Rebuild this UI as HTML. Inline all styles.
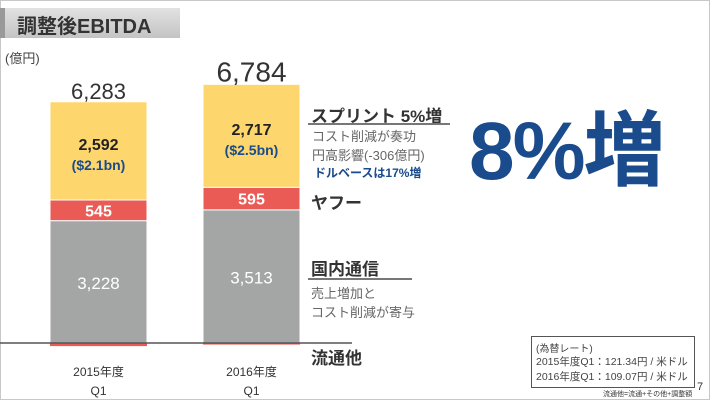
<!DOCTYPE html>
<html><head><meta charset="utf-8"><style>
body{margin:0;width:710px;height:400px;overflow:hidden;background:#fff;font-family:"Liberation Sans","Noto Sans CJK JP",sans-serif;}
#slide{position:absolute;left:0;top:0;width:708px;height:398px;border:1px solid #c8c8c8;}
.t{position:absolute;white-space:nowrap;}
</style></head><body>
<div id="slide"></div>
<div style="position:absolute;left:0;top:8px;width:180px;height:30px;background:linear-gradient(#e2e2e2,#c4c4c4);"></div>
<div style="position:absolute;left:0;top:8px;width:5px;height:30px;background:#999;"></div>
<div class="t" style="left:17px;top:10px;font-size:20px;font-weight:bold;color:#333;">調整後EBITDA</div>
<div class="t" style="left:5px;top:48px;font-size:13px;color:#444;">(億円)</div>
<svg id="chart" width="710" height="400" style="position:absolute;left:0;top:0"></svg>
<div class="t" style="left:311px;top:102px;font-size:17px;font-weight:bold;color:#333;">スプリント 5%増</div>
<div style="position:absolute;left:308px;top:123px;width:142px;height:2px;background:#777;"></div>
<div class="t" style="left:312px;top:126px;font-size:13px;color:#666;">コスト削減が奏功</div>
<div class="t" style="left:312px;top:145px;font-size:13px;color:#666;">円高影響(-306億円)</div>
<div class="t" style="left:314px;top:164px;font-size:12px;font-weight:bold;color:#1a4b8c;">ドルベースは17%増</div>
<div class="t" style="left:311px;top:189px;font-size:17px;font-weight:bold;color:#333;">ヤフー</div>
<div class="t" style="left:311px;top:255px;font-size:17px;font-weight:bold;color:#333;">国内通信</div>
<div style="position:absolute;left:308px;top:278px;width:104px;height:2px;background:#777;"></div>
<div class="t" style="left:311px;top:283px;font-size:13px;color:#666;">売上増加と</div>
<div class="t" style="left:311px;top:302px;font-size:13px;color:#666;">コスト削減が寄与</div>
<div class="t" style="left:311px;top:344px;font-size:17px;font-weight:bold;color:#333;">流通他</div>
<div class="t" style="left:469px;top:84px;font-size:82px;font-weight:bold;color:#1a4b8c;letter-spacing:-2px;">8%増</div>
<div style="position:absolute;left:531px;top:336px;width:162px;height:50px;border:1px solid #555;"></div>
<div class="t" style="left:536px;top:340px;font-size:10px;color:#444;">(為替レート)</div>
<div class="t" style="left:536px;top:354px;font-size:10.5px;color:#444;">2015年度Q1：121.34円 / 米ドル</div>
<div class="t" style="left:536px;top:369px;font-size:10.5px;color:#444;">2016年度Q1：109.07円 / 米ドル</div>
<div class="t" style="left:603px;top:389px;font-size:7px;color:#333;">流通他=流通+その他+調整額</div>
<div class="t" style="left:697px;top:381px;font-size:11px;color:#333;">7</div>
<script>
const categories=["2015年度","2016年度"];
const sprint=[2592,2717];
const sprintUsd=["($2.1bn)","($2.5bn)"];
const yahoo=[545,595];
const domestic=[3228,3513];
const other=[-82,-41];
const totals=[6283,6784];
const svg=document.getElementById('chart');
const NS='http://www.w3.org/2000/svg';
const base=343, k=0.0379, barW=97, xs=[50,203];
const y=v=>base-v*k;
const fmt=v=>v.toLocaleString('en-US');
function el(tag,attrs,txt){const e=document.createElementNS(NS,tag);for(const a in attrs)e.setAttribute(a,attrs[a]);if(txt!==undefined)e.textContent=txt;svg.appendChild(e);return e;}
categories.forEach((c,i)=>{
  const x=xs[i],cx=x+barW/2;
  const g0=0,g1=domestic[i],r1=g1+yahoo[i],s1=r1+sprint[i];
  let r=el('rect',{x:x,y:y(g1),width:barW,height:y(g0)-y(g1),fill:'#a4a6a5',stroke:'#fff','stroke-width':1});
  
  r=el('rect',{x:x,y:y(r1),width:barW,height:y(g1)-y(r1),fill:'#eb5b55',stroke:'#fff','stroke-width':1});
  
  r=el('rect',{x:x,y:y(s1),width:barW,height:y(r1)-y(s1),fill:'#fdd66e',stroke:'#fff','stroke-width':1});
  
  r=el('rect',{x:x,y:base,width:barW,height:-other[i]*k,fill:'#eb5b55'});
  
  let t=el('text',{x:cx,y:(y(g1)+base)/2+7,'text-anchor':'middle','font-size':17,fill:'#fff'},fmt(domestic[i]));
  
  t=el('text',{x:cx,y:(y(r1)+y(g1))/2+6,'text-anchor':'middle','font-size':16,'font-weight':'bold',fill:'#fff'},fmt(yahoo[i]));
  
  const sm=(y(s1)+y(r1))/2;
  t=el('text',{x:cx,y:sm-1,'text-anchor':'middle','font-size':16,'font-weight':'bold',fill:'#222'},fmt(sprint[i]));
  
  t=el('text',{x:cx,y:sm+19,'text-anchor':'middle','font-size':14,'font-weight':'bold',fill:'#1a4b8c'},sprintUsd[i]);
  
  t=el('text',{x:cx,y:y(s1)-3,'text-anchor':'middle','font-size':i?28:22,fill:'#333'},fmt(totals[i]));
  
  t=el('text',{x:cx,y:376,'text-anchor':'middle','font-size':12,fill:'#333'},c);
  
  t=el('text',{x:cx,y:395,'text-anchor':'middle','font-size':12,fill:'#333'},'Q1');
  
});
const ax=el('line',{x1:0,y1:base,x2:352,y2:base,stroke:'#555','stroke-width':1.5});

</script>
</body></html>
